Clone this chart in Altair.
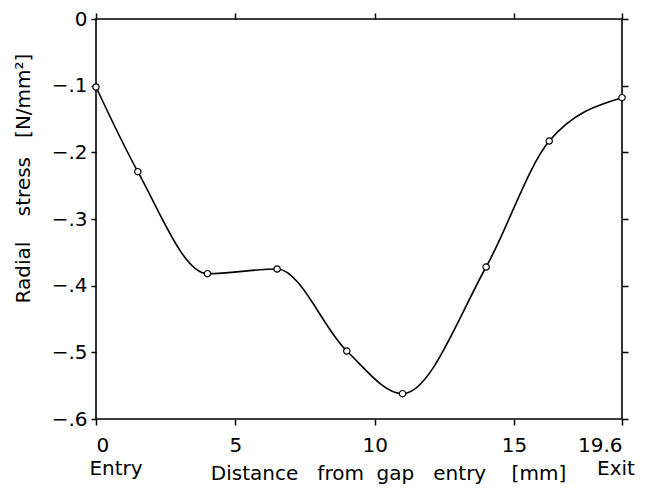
import altair as alt
import pandas as pd

# ---- data ----
distance = [0, 1.5, 4, 6.5, 9, 11, 14, 16.5, 19.6]
stress = [-0.102, -0.229, -0.382, -0.375, -0.498, -0.562, -0.372, -0.183, -0.118]
x_ticks = [0, 5, 10, 15, 19.6]
y_ticks = [0, -0.1, -0.2, -0.3, -0.4, -0.5, -0.6]
end_labels = ["Entry", "Exit"]
end_pos = [0, 19.6]

df = pd.DataFrame({"d": distance, "s": stress})
ends = pd.DataFrame({"d": end_pos, "t": end_labels})

W, H = 526, 400
FONT = "DejaVu Sans"
FS = 20
SP = "\u00a0"

xscale = alt.Scale(domain=[0, 15, 19.6], range=[0, 418, W], nice=False, zero=False)
yscale = alt.Scale(domain=[-0.6, 0], nice=False, zero=False)

ylab = "datum.value == 0 ? '0' : '\u2212.' + format(-datum.value*10, '.0f')"
xlab = "'' + datum.value"

x_title = "Distance" + SP * 3 + "from" + SP * 2 + "gap" + SP * 3 + "entry" + SP * 4 + "[mm]"
y_title = "Radial" + SP * 4 + "stress" + SP * 3 + "[N/mm²]"

x_main = alt.Axis(values=x_ticks, labelExpr=xlab, grid=False, domain=False,
                  tickSize=6, tickColor="black", tickWidth=1.5, labelPadding=10,
                  labelFont=FONT, labelFontSize=FS, labelColor="black",
                  title=x_title,
                  titleFont=FONT, titleFontSize=FS, titleFontWeight="normal",
                  titleColor="black", titleX=292, titleY=60,
                  titleBaseline="alphabetic", titleAlign="center")
y_main = alt.Axis(values=y_ticks, labelExpr=ylab, grid=False, domain=False,
                  tickSize=5, tickColor="black", tickWidth=1.5, labelPadding=4,
                  labelFont=FONT, labelFontSize=FS, labelColor="black",
                  title=y_title,
                  titleFont=FONT, titleFontSize=FS, titleFontWeight="normal",
                  titleColor="black", titleX=-73, titleY=159,
                  titleBaseline="middle", titleAlign="center", titleAngle=-90)
x_top = alt.Axis(orient="top", values=x_ticks, labels=False, title=None, grid=False,
                 domain=False, tickSize=6, tickColor="black", tickWidth=1.5)
y_right = alt.Axis(orient="right", values=y_ticks, labels=False, title=None, grid=False,
                   domain=False, tickSize=6, tickColor="black", tickWidth=1.5)

base = alt.Chart(df)

line = base.mark_line(interpolate="monotone", color="black", strokeWidth=1.6).encode(
    x=alt.X("d:Q", scale=xscale, axis=x_main),
    y=alt.Y("s:Q", scale=yscale, axis=y_main),
)

points = base.mark_point(shape="circle", filled=True, fill="white", stroke="black",
                         strokeWidth=1.2, size=40, opacity=1).encode(
    x=alt.X("d:Q", scale=xscale, axis=x_top),
    y=alt.Y("s:Q", scale=yscale, axis=y_right),
)

def end_text(label, dx):
    return alt.Chart(ends).transform_filter(
        alt.datum.t == label
    ).mark_text(font=FONT, fontSize=FS, color="black", baseline="alphabetic",
                align="center", dx=dx).encode(
        x=alt.X("d:Q", scale=xscale, axis=None),
        y=alt.value(H + 56),
        text="t:N",
    )

entry_txt = end_text("Entry", 20)
exit_txt = end_text("Exit", -6)

chart = alt.layer(line, points, entry_txt, exit_txt).resolve_axis(
    x="independent", y="independent"
).properties(
    width=W, height=H,
    padding={"left": 88, "top": 11, "right": 22, "bottom": 65},
    autosize=alt.AutoSizeParams(type="none"),
    background="white",
).configure_view(stroke="black", strokeWidth=1.6)

chart.save("out.html", embed_options={"renderer": "svg", "actions": False})
